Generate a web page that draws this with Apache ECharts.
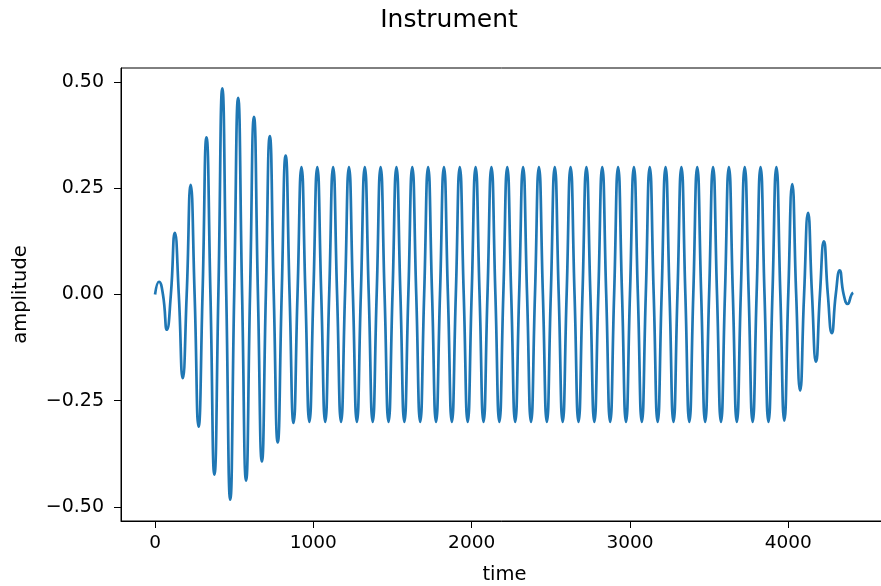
<!DOCTYPE html>
<html>
<head>
<meta charset="utf-8">
<script src="https://cdn.jsdelivr.net/npm/echarts@6/dist/echarts.min.js"></script>
<style>
html,body{margin:0;padding:0;background:#fff;}
#chart{width:881px;height:586px;}
</style>
</head>
<body>
<div id="chart"></div>
<script>
// Values
const titleText = 'Instrument';
const xName = 'time';
const yName = 'amplitude';
const xTicks = [0, 1000, 2000, 3000, 4000];
const yTicks = [-0.5, -0.25, 0, 0.25, 0.5];
const period = 100; // samples per cycle, read from peak spacing
const cycleStarts = [
  0, 100, 200, 300, 400, 500, 600, 700, 800, 900,
  1000, 1100, 1200, 1300, 1400, 1500, 1600, 1700, 1800, 1900,
  2000, 2100, 2200, 2300, 2400, 2500, 2600, 2700, 2800, 2900,
  3000, 3100, 3200, 3300, 3400, 3500, 3600, 3700, 3800, 3900,
  4000, 4100, 4200, 4300
];
const peakValues = [
  0.030, 0.145, 0.258, 0.370, 0.485, 0.463, 0.418, 0.373, 0.327, 0.300,
  0.300, 0.300, 0.300, 0.300, 0.300, 0.300, 0.300, 0.300, 0.300, 0.300,
  0.300, 0.300, 0.300, 0.300, 0.300, 0.300, 0.300, 0.300, 0.300, 0.300,
  0.300, 0.300, 0.300, 0.300, 0.300, 0.300, 0.300, 0.300, 0.300, 0.300,
  0.260, 0.192, 0.125, 0.057
];
const troughValues = [
  -0.083, -0.197, -0.311, -0.424, -0.483, -0.438, -0.393, -0.348, -0.302, -0.300,
  -0.300, -0.300, -0.300, -0.300, -0.300, -0.300, -0.300, -0.300, -0.300, -0.300,
  -0.300, -0.300, -0.300, -0.300, -0.300, -0.300, -0.300, -0.300, -0.300, -0.300,
  -0.300, -0.300, -0.300, -0.300, -0.300, -0.300, -0.300, -0.300, -0.300, -0.297,
  -0.226, -0.158, -0.091, -0.022
];
const startPoint = [0, 0];
const endPoint = [4410, 0.004];

// Build the line through the read extrema and zero crossings
const points = [startPoint];
cycleStarts.forEach((s, k) => {
  points.push([s + period * 0.25, peakValues[k]]);
  points.push([s + period * 0.5, 0]);
  points.push([s + period * 0.75, troughValues[k]]);
  points.push([s + period, 0]);
});
points.push(endPoint);

const font = 'DejaVu Sans';
const fmtY = v => (v < 0 ? '\u2212' : '') + Math.abs(v).toFixed(2);
const fmtX = v => String(Math.round(v));

const chart = echarts.init(document.getElementById('chart'), null, {renderer: 'canvas'});
chart.setOption({
  animation: false,
  backgroundColor: '#ffffff',
  title: {
    text: titleText,
    left: 444,
    textAlign: 'center',
    top: 3,
    textStyle: {fontFamily: font, fontSize: 25, fontWeight: 'normal', color: '#000'}
  },
  grid: {
    left: 121, right: -7, top: 68, bottom: 65,
    outerBoundsMode: 'none',
    containLabel: false,
    show: true, borderColor: '#000', borderWidth: 1, backgroundColor: 'transparent'
  },
  xAxis: {
    type: 'value',
    min: -215, max: 4630,
    name: xName,
    nameLocation: 'middle',
    nameGap: 44,
    nameTextStyle: {fontFamily: font, fontSize: 19.5, color: '#000'},
    axisLine: {show: true, onZero: false, lineStyle: {color: '#000', width: 1}},
    axisTick: {show: true, length: 7, lineStyle: {color: '#000', width: 1}, customValues: xTicks},
    axisLabel: {fontFamily: font, fontSize: 18.5, color: '#000', margin: 13, customValues: xTicks, formatter: fmtX},
    splitLine: {show: false}
  },
  yAxis: {
    type: 'value',
    min: -0.533, max: 0.533,
    name: yName,
    nameLocation: 'middle',
    nameRotate: 90,
    nameGap: 90,
    nameTextStyle: {fontFamily: font, fontSize: 19.5, color: '#000'},
    axisLine: {show: true, onZero: false, lineStyle: {color: '#000', width: 1}},
    axisTick: {show: true, length: 7, lineStyle: {color: '#000', width: 1}, customValues: yTicks},
    axisLabel: {fontFamily: font, fontSize: 19, color: '#000', margin: 17, customValues: yTicks, formatter: fmtY},
    splitLine: {show: false}
  },
  series: [{
    type: 'line',
    data: points,
    smooth: 0.55,
    showSymbol: false,
    symbol: 'none',
    lineStyle: {color: '#1f77b4', width: 2.7},
    clip: true
  }]
});
</script>
</body>
</html>
